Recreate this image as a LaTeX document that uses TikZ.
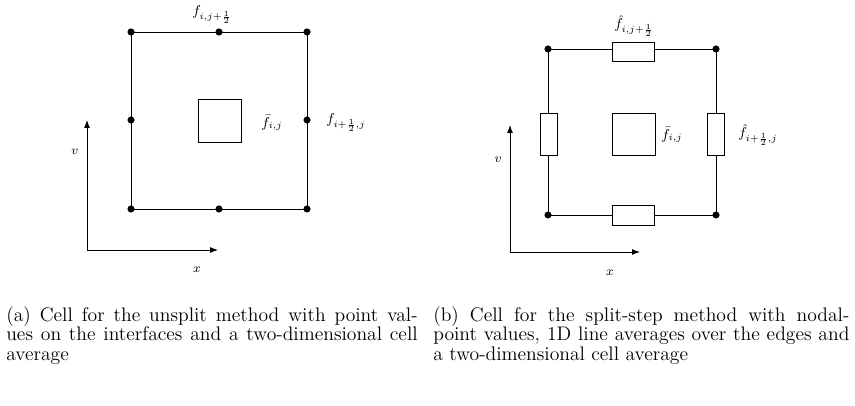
\documentclass[tikz,border=0pt]{standalone}
\usetikzlibrary{arrows.meta}
\begin{document}
\begin{tikzpicture}[x=0.632pt,y=-0.632pt,
  dot/.style={circle,fill,inner sep=0pt,minimum size=4.5pt},
  ln/.style={line width=0.6pt},
  ax/.style={line width=0.6pt,-{Latex[length=5pt]}},
  lab/.style={font=\small,inner sep=0pt},
  cap/.style={text width=#1,align=justify,anchor=north west,inner sep=0pt,font=\fontsize{12.4}{12.6}\selectfont}]
\useasboundingbox (0,0) rectangle (855,406);
% left
\coordinate (A1) at (131,32); \coordinate (A2) at (307,32);
\coordinate (A3) at (307,209); \coordinate (A4) at (131,209);
\draw[ln] (A1)--(A2)--(A3)--(A4)--cycle;
\foreach \p/\n in {(131,32)/a,(219,32)/b,(307,32)/c,(131,120)/d,(307,120)/e,(131,209)/f,(219,209)/g,(307,209)/h}
  \node[dot] (d\n) at \p {};
\draw[ln] (198,99) rectangle (241,142);
\node[lab] (fa) at (272,123) {$\bar f_{i,j}$};
\node[lab] (fb) at (346,123) {$f_{i+\frac12,j}$};
\node[lab] (fc) at (212,15) {$f_{i,j+\frac12}$};
\coordinate (O1) at (87,250);
\coordinate (V1) at (87,120); \coordinate (X1) at (218,250);
\draw[ax] (O1)--(V1); \draw[ax] (O1)--(X1);
\node[lab,font=\footnotesize] (v1) at (75,152) {$v$};
\node[lab,font=\footnotesize] (x1) at (197,270) {$x$};
% right
\coordinate (B1) at (548,49); \coordinate (B2) at (716,49);
\coordinate (B3) at (716,215); \coordinate (B4) at (548,215);
\draw[ln] (B1)--(B2)--(B3)--(B4)--cycle;
\foreach \p/\n in {(548,49)/a,(716,49)/b,(716,215)/c,(548,215)/d}
  \node[dot] (e\n) at \p {};
\draw[ln,fill=white] (612,42) rectangle (654,61);
\draw[ln,fill=white] (612,205) rectangle (654,225);
\draw[ln,fill=white] (540,113) rectangle (557,155);
\draw[ln,fill=white] (707,113) rectangle (724,155);
\draw[ln] (612,113) rectangle (655,155);
\node[lab] (ga) at (672,135) {$\bar f_{i,j}$};
\node[lab] (gb) at (758,135) {$\hat f_{i+\frac12,j}$};
\node[lab] (gc) at (634,26) {$\hat f_{i,j+\frac12}$};
\coordinate (O2) at (510,252);
\coordinate (V2) at (510,125); \coordinate (X2) at (640,252);
\draw[ax] (O2)--(V2); \draw[ax] (O2)--(X2);
\node[lab,font=\footnotesize] (v2) at (498,160) {$v$};
\node[lab,font=\footnotesize] (x2) at (610,273) {$x$};
% captions
\node[cap=260pt] (ca) at (6,306) {(a) Cell for the unsplit method with point values on the interfaces and a two-dimensional cell average};
\node[cap=263pt] (cb) at (433,306) {(b) Cell for the split-step method with nodal-\linebreak point values, 1D line averages over the edges and\linebreak a two-dimensional cell average};
\end{tikzpicture}
\end{document}
